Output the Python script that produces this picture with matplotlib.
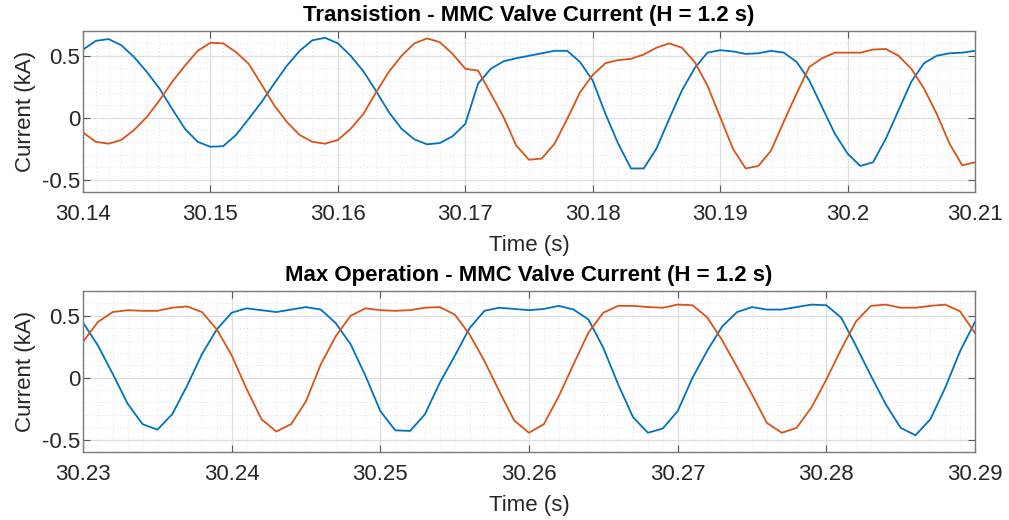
import numpy as np
import matplotlib
matplotlib.use("Agg")
import matplotlib.pyplot as plt
from matplotlib.ticker import MultipleLocator

# Valve currents sampled every 1 ms (kA)
t_trans = np.round(np.arange(30.140, 30.2105, 0.001), 3)
i_trans_a = [0.55, 0.62, 0.635, 0.585, 0.49, 0.37, 0.235, 0.07, -0.09, -0.195,
             -0.235, -0.23, -0.14, -0.01, 0.125, 0.275, 0.42, 0.54, 0.625, 0.645,
             0.6, 0.5, 0.375, 0.215, 0.045, -0.09, -0.175, -0.215, -0.205, -0.15,
             -0.05, 0.275, 0.395, 0.455, 0.48, 0.5, 0.52, 0.54, 0.54, 0.45,
             0.3, 0.03, -0.21, -0.41, -0.41, -0.25, -0.01, 0.22, 0.4, 0.525,
             0.545, 0.535, 0.515, 0.52, 0.54, 0.525, 0.45, 0.3, 0.085, -0.13,
             -0.29, -0.39, -0.36, -0.17, 0.06, 0.29, 0.44, 0.5, 0.52, 0.525,
             0.54]
i_trans_b = [-0.12, -0.195, -0.21, -0.18, -0.1, 0.005, 0.14, 0.29, 0.42, 0.54,
             0.605, 0.6, 0.53, 0.435, 0.27, 0.1, -0.035, -0.14, -0.195, -0.21,
             -0.18, -0.09, 0.03, 0.205, 0.37, 0.5, 0.6, 0.64, 0.61, 0.515,
             0.395, 0.38, 0.195, 0.005, -0.225, -0.34, -0.33, -0.21, -0.01, 0.205,
             0.345, 0.44, 0.465, 0.475, 0.51, 0.565, 0.6, 0.565, 0.45, 0.26,
             0.005, -0.25, -0.41, -0.39, -0.265, -0.03, 0.195, 0.41, 0.48, 0.525,
             0.525, 0.525, 0.55, 0.555, 0.5, 0.395, 0.235, 0.03, -0.21, -0.385,
             -0.36]

t_max = np.round(np.arange(30.230, 30.2905, 0.001), 3)
i_max_a = [0.445, 0.26, 0.03, -0.21, -0.375, -0.42, -0.295, -0.065, 0.19, 0.39,
           0.525, 0.56, 0.545, 0.53, 0.55, 0.57, 0.55, 0.44, 0.27, 0.015,
           -0.27, -0.425, -0.43, -0.295, -0.04, 0.175, 0.4, 0.54, 0.565, 0.555,
           0.545, 0.555, 0.58, 0.55, 0.47, 0.24, -0.055, -0.32, -0.445, -0.41,
           -0.27, 0.0, 0.22, 0.415, 0.53, 0.57, 0.55, 0.55, 0.57, 0.59,
           0.585, 0.485, 0.255, 0.015, -0.215, -0.405, -0.465, -0.335, -0.08, 0.215,
           0.45]
i_max_b = [0.29, 0.45, 0.53, 0.545, 0.54, 0.54, 0.565, 0.575, 0.53, 0.39,
           0.18, -0.09, -0.335, -0.435, -0.375, -0.19, 0.11, 0.335, 0.5, 0.56,
           0.545, 0.54, 0.545, 0.565, 0.57, 0.51, 0.35, 0.135, -0.11, -0.345,
           -0.445, -0.375, -0.15, 0.11, 0.365, 0.525, 0.58, 0.58, 0.57, 0.565,
           0.59, 0.585, 0.485, 0.3, 0.085, -0.135, -0.365, -0.445, -0.405, -0.24,
           -0.015, 0.23, 0.455, 0.58, 0.59, 0.565, 0.565, 0.58, 0.59, 0.535,
           0.36]

titles = ["Transistion - MMC Valve Current (H = 1.2 s)",
          "Max Operation - MMC Valve Current (H = 1.2 s)"]
xlims = [(30.14, 30.21), (30.23, 30.29)]
xticks = [[30.14, 30.15, 30.16, 30.17, 30.18, 30.19, 30.2, 30.21],
          [30.23, 30.24, 30.25, 30.26, 30.27, 30.28, 30.29]]
yticks = [-0.5, 0, 0.5]

BLUE = "#0072BD"
ORANGE = "#D95319"

plt.rcParams["font.family"] = ["Liberation Sans", "DejaVu Sans"]

fig = plt.figure(figsize=(10.09, 5.2), dpi=100)
ax_top = fig.add_axes([0.0823, 0.6308, 0.8840, 0.3096])
ax_bot = fig.add_axes([0.0823, 0.1308, 0.8840, 0.3096])

series = [(t_trans, i_trans_a, i_trans_b), (t_max, i_max_a, i_max_b)]

for k, ax in enumerate([ax_top, ax_bot]):
    t, ia, ib = series[k]
    ax.plot(t, ia, color=BLUE, lw=1.3)
    ax.plot(t, ib, color=ORANGE, lw=1.3)
    ax.set_xlim(*xlims[k])
    ax.set_ylim(-0.6, 0.7)
    ax.set_xticks(xticks[k])
    ax.set_xticklabels([f"{v:g}" for v in xticks[k]])
    ax.set_yticks(yticks)
    ax.set_yticklabels(["-0.5", "0", "0.5"])
    ax.xaxis.set_minor_locator(MultipleLocator(0.001))
    ax.yaxis.set_minor_locator(MultipleLocator(0.1))
    ax.grid(which="major", color="#dedede", lw=0.9, ls="-")
    ax.grid(which="minor", color="#d4d4d4", lw=0.6, ls=(0, (1, 3)))
    ax.set_axisbelow(True)
    ax.tick_params(which="major", direction="in", length=5, width=0.8,
                   color="#555555", top=True, right=True,
                   labelsize=16, labelcolor="#262626")
    ax.tick_params(axis="x", which="major", pad=9)
    ax.tick_params(axis="y", which="major", pad=2)
    ax.tick_params(which="minor", length=0)
    for sp in ax.spines.values():
        sp.set_color("#7a7a7a")
        sp.set_linewidth(1.0)
    ax.set_title(titles[k], fontsize=16, fontweight="bold", pad=7)
    ax.set_xlabel("Time (s)", fontsize=16, color="#262626", labelpad=7)
    ax.set_ylabel("Current (kA)", fontsize=16, color="#262626", labelpad=4)

fig.savefig("out.png", dpi=100, facecolor="white")
